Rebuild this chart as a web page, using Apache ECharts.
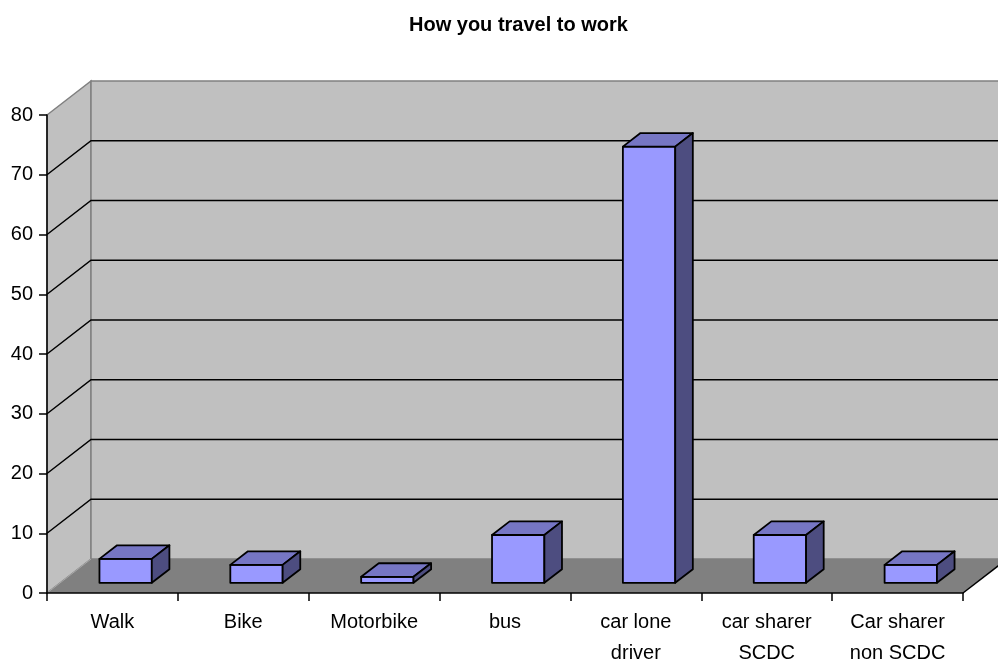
<!DOCTYPE html>
<html>
<head>
<meta charset="utf-8">
<script src="https://cdn.jsdelivr.net/npm/echarts@6/dist/echarts.min.js"></script>
<style>
  html, body { margin: 0; padding: 0; background: #fff; }
  #chart { width: 998px; height: 659px; }
</style>
</head>
<body>
<div id="chart"></div>
<script>
// data
const categories = ['Walk', 'Bike', 'Motorbike', 'bus', 'car lone\ndriver', 'car sharer\nSCDC', 'Car sharer\nnon SCDC']
const values = [4, 3, 1, 8, 73, 8, 3]
const gridValues = [10, 20, 30, 40, 50, 60, 70]

// 3d depth of the box (back wall offset) and bar placement in that depth
const DEPTH = [44, -34]
const BAR_FRONT = 0.3
const BAR_DEPTH = 0.4
const BAR_WIDTH = 0.4

const chart = echarts.init(document.getElementById('chart'))

const pt = (p, t) => [p[0] + DEPTH[0] * t, p[1] + DEPTH[1] * t]

// walls + floor + grid lines
const renderBox = (params, api) => {
  const cs = params.coordSys
  const x0 = cs.x, x1 = cs.x + cs.width
  const yTop = api.coord([0, 80])[1]
  const yBase = api.coord([0, 0])[1]
  const children = []
  // floor
  children.push({
    type: 'polygon',
    shape: { points: [[x0, yBase], [x1, yBase], pt([x1, yBase], 1), pt([x0, yBase], 1)] },
    style: { fill: '#808080', stroke: null }
  })
  // left wall
  children.push({
    type: 'polygon',
    shape: { points: [[x0, yTop], pt([x0, yTop], 1), pt([x0, yBase], 1), [x0, yBase]] },
    style: { fill: '#C0C0C0', stroke: '#808080', lineWidth: 1.5 }
  })
  // back wall
  children.push({
    type: 'polygon',
    shape: { points: [pt([x0, yTop], 1), pt([x1, yTop], 1), pt([x1, yBase], 1), pt([x0, yBase], 1)] },
    style: { fill: '#C0C0C0', stroke: '#808080', lineWidth: 1.5 }
  })
  // floor / left wall seam, lighter
  children.push({
    type: 'line',
    shape: { x1: x0, y1: yBase, x2: x0 + DEPTH[0], y2: yBase + DEPTH[1] },
    style: { stroke: '#A8A8A8', lineWidth: 1 }
  })
  gridValues.forEach(v => {
    const y = api.coord([0, v])[1]
    children.push({
      type: 'polyline',
      shape: { points: [[x0, y], pt([x0, y], 1), pt([x1, y], 1)] },
      style: { stroke: '#000', lineWidth: 1.5, fill: null }
    })
  })
  // floor right edge
  children.push({
    type: 'line',
    shape: { x1: x1, y1: yBase, x2: x1 + DEPTH[0], y2: yBase + DEPTH[1] },
    style: { stroke: '#000', lineWidth: 1.5 }
  })
  return { type: 'group', children }
}

const renderBar = (params, api) => {
  const idx = api.value(0)
  const top = api.coord([idx, api.value(1)])
  const base = api.coord([idx, 0])
  const hw = api.size([1, 0])[0] * BAR_WIDTH / 2
  const L = pt([top[0] - hw, top[1]], BAR_FRONT)
  const R = pt([top[0] + hw, top[1]], BAR_FRONT)
  const RB = pt([top[0] + hw, base[1]], BAR_FRONT)
  const LB = pt([top[0] - hw, base[1]], BAR_FRONT)
  const Lb = pt(L, BAR_DEPTH), Rb = pt(R, BAR_DEPTH), RBb = pt(RB, BAR_DEPTH)
  const edge = { stroke: '#000', lineWidth: 1.8, lineJoin: 'round' }
  return {
    type: 'group',
    children: [
      { type: 'polygon', shape: { points: [L, R, RB, LB] }, style: Object.assign({ fill: '#9999FF' }, edge) },
      { type: 'polygon', shape: { points: [L, R, Rb, Lb] }, style: Object.assign({ fill: '#7676C4' }, edge) },
      { type: 'polygon', shape: { points: [R, Rb, RBb, RB] }, style: Object.assign({ fill: '#4D4D80' }, edge) }
    ]
  }
}

const option = {
  animation: false,
  backgroundColor: '#fff',
  textStyle: { fontFamily: 'Liberation Sans, Arial, sans-serif' },
  title: {
    text: 'How you travel to work',
    left: 404,
    top: 10,
    textStyle: { fontSize: 20, fontWeight: 'bold', color: '#000', fontFamily: 'Liberation Sans, Arial, sans-serif' }
  },
  grid: { left: 47, right: 35, top: 115, bottom: 66, containLabel: false, outerBoundsMode: 'none' },
  xAxis: {
    type: 'category',
    data: categories,
    boundaryGap: true,
    axisLine: { lineStyle: { color: '#000', width: 1.5 } },
    axisTick: { show: true, length: 8, interval: 0, lineStyle: { color: '#000', width: 1.5 } },
    axisLabel: { interval: 0, color: '#000', fontSize: 20, lineHeight: 31, margin: 14 },
    splitLine: { show: false },
    z: 5
  },
  yAxis: {
    type: 'value',
    min: 0,
    max: 80,
    interval: 10,
    axisLine: { show: true, lineStyle: { color: '#000', width: 1.5 } },
    axisTick: { show: true, length: 8, lineStyle: { color: '#000', width: 1.5 } },
    axisLabel: { color: '#000', fontSize: 20, margin: 14 },
    splitLine: { show: false },
    z: 5
  },
  series: [
    {
      type: 'custom',
      renderItem: renderBox,
      data: [[0, 0]],
      clip: false,
      silent: true,
      z: 1
    },
    {
      type: 'custom',
      renderItem: renderBar,
      data: values.map((v, i) => [i, v]),
      encode: { x: 0, y: 1 },
      clip: false,
      z: 3
    }
  ]
}

chart.setOption(option)
</script>
</body>
</html>
